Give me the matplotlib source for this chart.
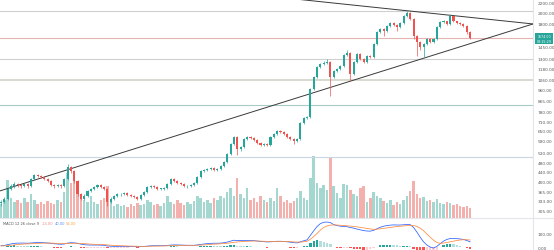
import numpy as np
import matplotlib
matplotlib.use("Agg")
import matplotlib.pyplot as plt
from matplotlib.ticker import FixedLocator, FuncFormatter, NullLocator
from matplotlib.lines import Line2D
from matplotlib.patches import Rectangle

# ---------------- data ----------------
first_open = 325
close = [329,339,373,383,391,387,383,391,383,410,
         426,422,418,410,402,387,383,387,383,410,
         460,442,402,355,339,349,366,373,380,387,
         380,373,329,339,349,355,355,359,352,349,
         345,339,352,362,380,383,380,373,373,376,
         391,410,402,394,391,383,383,387,394,418,
         442,446,451,455,446,451,464,482,520,573,
         612,546,556,600,612,606,595,578,567,573,
         567,612,630,648,642,630,612,600,589,600,
         700,734,741,968,1080,1193,1228,1240,1252,1080,
         1150,1172,1205,1339,1365,1117,1252,1352,1289,1252,
         1326,1313,1487,1666,1716,1690,1766,1817,1783,1749,
         1817,1942,1998,1888,1604,1516,1445,1487,1560,1516,
         1560,1749,1834,1852,1800,1942,1852,1817,1800,1766,
         1666,1574]
high = [335,345,378,390,398,395,392,396,394,415,
        432,430,426,422,414,405,392,392,391,414,
        475,465,446,405,360,354,370,378,385,392,
        392,384,376,344,353,360,360,363,362,355,
        352,348,356,366,384,388,387,384,377,380,
        395,415,413,405,398,394,387,391,398,422,
        447,451,456,460,459,455,468,487,526,580,
        620,616,562,606,620,618,610,598,582,578,
        577,617,636,655,652,646,634,616,604,606,
        708,742,750,980,1095,1210,1245,1260,1290,1262,
        1165,1185,1220,1355,1410,1375,1265,1370,1365,1300,
        1340,1340,1505,1690,1740,1730,1785,1840,1830,1795,
        1835,1965,2040,2010,1900,1620,1530,1500,1575,1575,
        1575,1765,1855,1875,1860,1970,1950,1860,1835,1810,
        1775,1680]
low = [318,325,336,368,378,380,378,379,378,380,
       405,416,412,405,398,382,378,379,378,380,
       406,436,396,350,334,335,345,362,369,376,
       376,369,318,325,335,345,350,351,348,345,
       341,335,336,348,358,376,376,369,368,369,
       372,387,398,390,387,379,378,379,383,390,
       414,437,441,445,441,441,447,460,478,515,
       568,515,538,550,594,600,589,572,561,562,
       560,563,607,625,636,624,606,594,570,584,
       596,694,726,736,960,1072,1180,1215,1230,905,
       1070,1140,1160,1195,1325,1045,1105,1240,1275,1238,
       1240,1300,1305,1475,1650,1600,1675,1750,1765,1690,
       1735,1800,1925,1870,1560,1330,1400,1315,1470,1500,
       1505,1550,1735,1815,1780,1790,1830,1800,1785,1745,
       1640,1560]
volume = [14,18,38,20,16,18,15,20,16,24,
          18,14,16,14,17,15,14,18,16,26,
          45,35,42,28,22,18,16,22,16,14,
          18,20,32,18,12,14,12,13,11,14,
          12,15,13,14,18,16,13,14,12,15,
          22,16,14,18,15,13,16,14,17,22,
          20,16,18,15,20,18,22,20,26,30,
          22,40,24,20,30,18,20,16,22,18,
          16,20,17,30,22,16,18,15,17,20,
          27,20,18,40,62,35,30,33,28,60,
          32,25,20,34,33,28,24,22,30,32,
          16,20,26,22,20,17,15,18,13,16,
          14,18,22,27,37,24,20,21,17,18,
          16,19,15,14,16,15,13,14,12,11,
          12,10]
macd = [10,12,18,24,28,30,30,30,29,31,
        33,34,34,33,31,28,25,23,21,23,
        30,33,32,28,22,18,16,15,15,15,
        14,13,8,6,5,5,5,5,4,4,
        3,2,3,4,7,9,10,10,10,10,
        12,15,16,16,15,14,13,13,13,16,
        20,23,26,28,29,29,30,33,38,45,
        52,50,49,50,51,51,49,46,43,41,
        39,40,42,44,44,43,40,37,33,32,
        40,48,55,90,125,158,180,190,192,188,
        172,165,160,158,156,150,145,138,132,126,
        123,122,128,140,152,160,165,168,170,169,
        169,171,173,172,150,115,75,40,15,0,
        -8,5,25,45,58,65,66,64,62,58,
        50,40]
signal = [8,9,11,13,16,19,21,23,24,25,
          27,28,29,30,30,30,29,28,27,26,
          27,28,29,29,27,26,24,22,21,20,
          19,18,16,14,12,11,10,9,8,7,
          6,6,5,5,5,6,7,7,8,8,
          9,10,11,12,13,13,13,13,13,14,
          15,16,18,20,22,23,25,27,29,32,
          36,39,41,43,44,45,46,46,45,44,
          43,42,42,42,43,43,42,41,39,38,
          38,40,44,60,80,105,130,150,162,168,
          170,169,167,165,163,161,158,155,151,147,
          143,139,136,137,140,143,147,150,154,157,
          160,162,164,166,165,158,145,125,100,75,
          52,35,28,30,35,40,45,50,54,56,
          56,54]
price_ticks = [2200, 2000, 1800, 1450, 1300, 1180, 1060, 960, 865,
               780, 710, 650, 590, 530, 480, 440, 400, 365, 333, 305]
level_prices = [2037, 1574, 1289, 1055, 830, 505]
level_colors = ['#cfcfcf', '#e6b3b3', '#d0d0d0', '#d3d8cc', '#a9cbc6', '#c9d6e3']
level_widths = [0.8, 0.8, 0.8, 1.3, 0.8, 0.8]
trend_up_x, trend_up_y = [-0.3, 159.9], [366, 1800]
trend_dn_x, trend_dn_y = [88.4, 159.9], [2284, 1800]
macd_ticks = [100, 0]
last_price_text = "1574.00"
countdown_text = "08:15:29"

# ---------------- figure ----------------
W, H = 554, 251
fig = plt.figure(figsize=(W / 100, H / 100), dpi=100)
fig.patch.set_facecolor('white')

plot_w = 533 / W
split = (H - 219) / H
rect_main = [0, split, plot_w, 1 - split]
rect_macd = [0, 0, plot_w, split]

n = len(close)
idx = np.arange(n)
opens = np.array([first_open] + close[:-1], dtype=float)
closes = np.array(close, dtype=float)
up = closes >= opens
GREEN, RED = '#26a69a', '#ef5350'
XL = (-0.3, 159.9)

# volume axes (behind)
axv = fig.add_axes(rect_main)
axv.bar(idx, volume, width=0.75,
        color=np.where(up, '#a3d7d0', '#f3b0ad'), linewidth=0)
axv.set_xlim(*XL)
axv.set_ylim(0, 219)
axv.axis('off')

# price axes
ax = fig.add_axes(rect_main, sharex=axv)
ax.patch.set_visible(False)
ax.set_yscale('log')
ax.set_ylim(282.6, 2284)
ax.set_xlim(*XL)

for p, c, lw in zip(level_prices, level_colors, level_widths):
    ax.axhline(p, color=c, lw=lw, zorder=1)

ax.plot(trend_up_x, trend_up_y, color='#3a3a3a', lw=0.7, zorder=2)
ax.plot(trend_dn_x, trend_dn_y, color='#3a3a3a', lw=0.7, zorder=2)

cols = np.where(up, GREEN, RED)
ax.vlines(idx, low, high, colors=cols, lw=0.5, zorder=3)
bottoms = np.minimum(opens, closes)
heights = np.maximum(np.abs(closes - opens), bottoms * 0.004)
ax.bar(idx, heights, bottom=bottoms, width=0.62, color=cols, linewidth=0, zorder=4)

ax.yaxis.tick_right()
ax.yaxis.set_major_locator(FixedLocator(price_ticks))
ax.yaxis.set_minor_locator(NullLocator())
ax.yaxis.set_major_formatter(FuncFormatter(lambda v, p: f"{v:.2f}"))
ax.tick_params(axis='y', length=0, pad=3.2, labelsize=3.1, labelcolor='#5a5a5a')
ax.tick_params(axis='x', bottom=False, labelbottom=False)
for s in ax.spines.values():
    s.set_visible(False)

# MACD axes
axm = fig.add_axes(rect_macd, sharex=axv)
axm.set_ylim(-23, 223)
axm.set_xlim(*XL)
hist = np.array(macd, float) - np.array(signal, float)
hcols = []
for i, h in enumerate(hist):
    prev = hist[i - 1] if i > 0 else h
    if h >= 0:
        hcols.append('#26a69a' if h >= prev else '#b2dfdb')
    else:
        hcols.append('#ff5252' if h < prev else '#ffcdd2')
axm.bar(idx, hist, width=0.7, color=hcols, linewidth=0)
axm.plot(idx, macd, color='#2962ff', lw=0.55)
axm.plot(idx, signal, color='#ff8a3d', lw=0.55)
axm.yaxis.tick_right()
axm.yaxis.set_major_locator(FixedLocator(macd_ticks))
axm.yaxis.set_major_formatter(FuncFormatter(lambda v, p: f"{v:.2f}"))
axm.tick_params(axis='y', length=0, pad=3.2, labelsize=3.1, labelcolor='#5a5a5a')
axm.tick_params(axis='x', bottom=False, labelbottom=False)
for s in axm.spines.values():
    s.set_visible(False)

# separators
fig.add_artist(Line2D([plot_w, plot_w], [0, 1], color='#e3e5ea', lw=0.8))
fig.add_artist(Line2D([0, 1], [split, split], color='#e3e5ea', lw=0.8))

# MACD legend text
ty = 1 - 224.5 / H
fs = 2.6
fig.text(3 / W, ty, "MACD 12 26 close 9", fontsize=fs, color='#555555', va='center')
fig.text(42 / W, ty, f"{hist[-1]:.2f}", fontsize=fs, color='#f08a8a', va='center')
fig.text(55 / W, ty, f"{macd[-1]:.2f}", fontsize=fs, color='#5b8cff', va='center')
fig.text(66 / W, ty, f"{signal[-1]:.2f}", fontsize=fs, color='#ffa040', va='center')

# last price box
fig.add_artist(Rectangle((535 / W, 1 - 45 / H), 18 / W, 11 / H,
                         transform=fig.transFigure, facecolor='#26a69a',
                         edgecolor='none', zorder=10))
fig.text(544 / W, 1 - 36.8 / H, last_price_text, fontsize=2.3, color='white',
         ha='center', va='center', zorder=11)
fig.text(544 / W, 1 - 42.0 / H, countdown_text, fontsize=2.3, color='white',
         ha='center', va='center', zorder=11)

fig.savefig('out.png', dpi=100)
